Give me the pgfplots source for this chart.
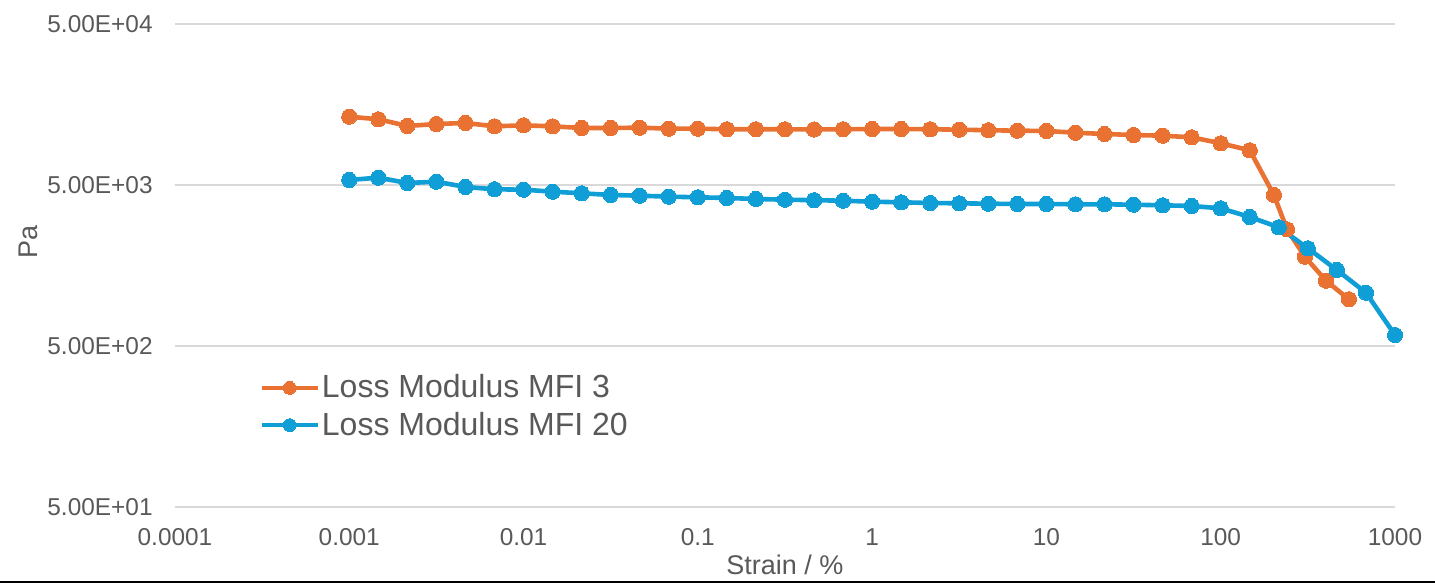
\documentclass[border=0pt]{standalone}
\usepackage{fontspec}
\setmainfont{Liberation Sans}
\usepackage{pgfplots}
\pgfplotsset{compat=1.18}
\definecolor{mforange}{HTML}{E97132}
\definecolor{mfblue}{HTML}{0F9ED5}
\definecolor{txt}{HTML}{595959}
\definecolor{gridc}{HTML}{D9D9D9}
\begin{document}
\begin{tikzpicture}
\path[use as bounding box] (-87.5pt,-38.5pt) rectangle (630pt,253.5pt);
\draw[black, line width=1pt] (-87.5pt,-37.6pt) -- (630pt,-37.6pt);
\begin{axis}[
  at={(0,0)}, anchor=south west,
  scale only axis, width=610pt, height=241.5pt,
  xmode=log, ymode=log,
  xmin=0.0001, xmax=1000, ymin=50, ymax=50000,
  clip=false,
  axis line style={draw=none},
  major tick length=0pt, minor tick length=0pt,
  minor xtick={}, minor ytick={},
  ymajorgrids, xmajorgrids=false,
  grid style={gridc, line width=1pt},
  xtick={0.0001,0.001,0.01,0.1,1,10,100,1000},
  xticklabels={0.0001,0.001,0.01,0.1,1,10,100,1000},
  ytick={50,500,5000,50000},
  yticklabels={5.00E+01,5.00E+02,5.00E+03,5.00E+04},
  tick label style={font=\fontsize{12.2pt}{14pt}\selectfont, text=txt},
  yticklabel style={anchor=east, inner sep=0pt, xshift=-11pt},
  xticklabel style={anchor=north, inner sep=0pt, yshift=-10.5pt},
  xlabel={Strain / \%},
  xlabel style={font=\fontsize{13.5pt}{16pt}\selectfont, text=txt, at={(axis description cs:0.5,0)}, anchor=base, inner sep=0pt, yshift=-34pt},
  ylabel={Pa},
  ylabel style={font=\fontsize{13.5pt}{16pt}\selectfont, text=txt, at={(axis description cs:-0.1205,0.548)}, anchor=center, inner sep=0pt},
  legend style={at={(axis description cs:0.0688,0.2081)}, anchor=west, draw=none, fill=none, inner sep=0pt, row sep=3.5pt,
    font=\fontsize{16pt}{19pt}\selectfont, text=txt, nodes={inner sep=1pt, text=txt}},
  legend cell align=left,
  legend image code/.code={\draw[mark repeat=2, mark phase=2, mark size=3.2pt] plot coordinates {(0pt,0pt) (14pt,0pt) (28pt,0pt)};},
]
\addplot[mforange, line width=2.3pt, line join=round, mark=*, mark size=3.8pt, mark options={solid, fill=mforange, draw=mforange, line width=0pt}] table {
x y
0.001 13280
0.001468 12800
0.002154 11630
0.003162 11960
0.004642 12140
0.006813 11570
0.01 11740
0.01468 11570
0.02154 11300
0.03162 11300
0.04642 11350
0.06813 11190
0.1 11190
0.1468 11090
0.2154 11090
0.3162 11090
0.4642 11060
0.6813 11090
1 11140
1.468 11140
2.154 11090
3.162 11030
4.642 10940
6.813 10870
10 10830
14.68 10560
21.54 10370
31.62 10220
46.42 10120
68.13 9890
100 9080
146.8 8210
202 4335
240 2653
304 1794
402 1272
544 975
};
\addlegendentry{Loss Modulus MFI 3}
\addplot[mfblue, line width=2.3pt, line join=round, mark=*, mark size=3.8pt, mark options={solid, fill=mfblue, draw=mfblue, line width=0pt}] table {
x y
0.001 5373
0.001468 5552
0.002154 5145
0.003162 5242
0.004642 4860
0.006813 4703
0.01 4675
0.01468 4544
0.02154 4440
0.03162 4335
0.04642 4291
0.06813 4230
0.1 4194
0.1468 4152
0.2154 4093
0.3162 4052
0.4642 4023
0.6813 3994
1 3938
1.468 3904
2.154 3865
3.162 3848
4.642 3827
6.813 3811
10 3811
14.68 3794
21.54 3794
31.62 3772
46.42 3740
68.13 3703
100 3583
146.8 3164
215.4 2731
316.2 2022
464.2 1483
681.3 1072
1000 585
};
\addlegendentry{Loss Modulus MFI 20}
\end{axis}
\end{tikzpicture}
\end{document}
